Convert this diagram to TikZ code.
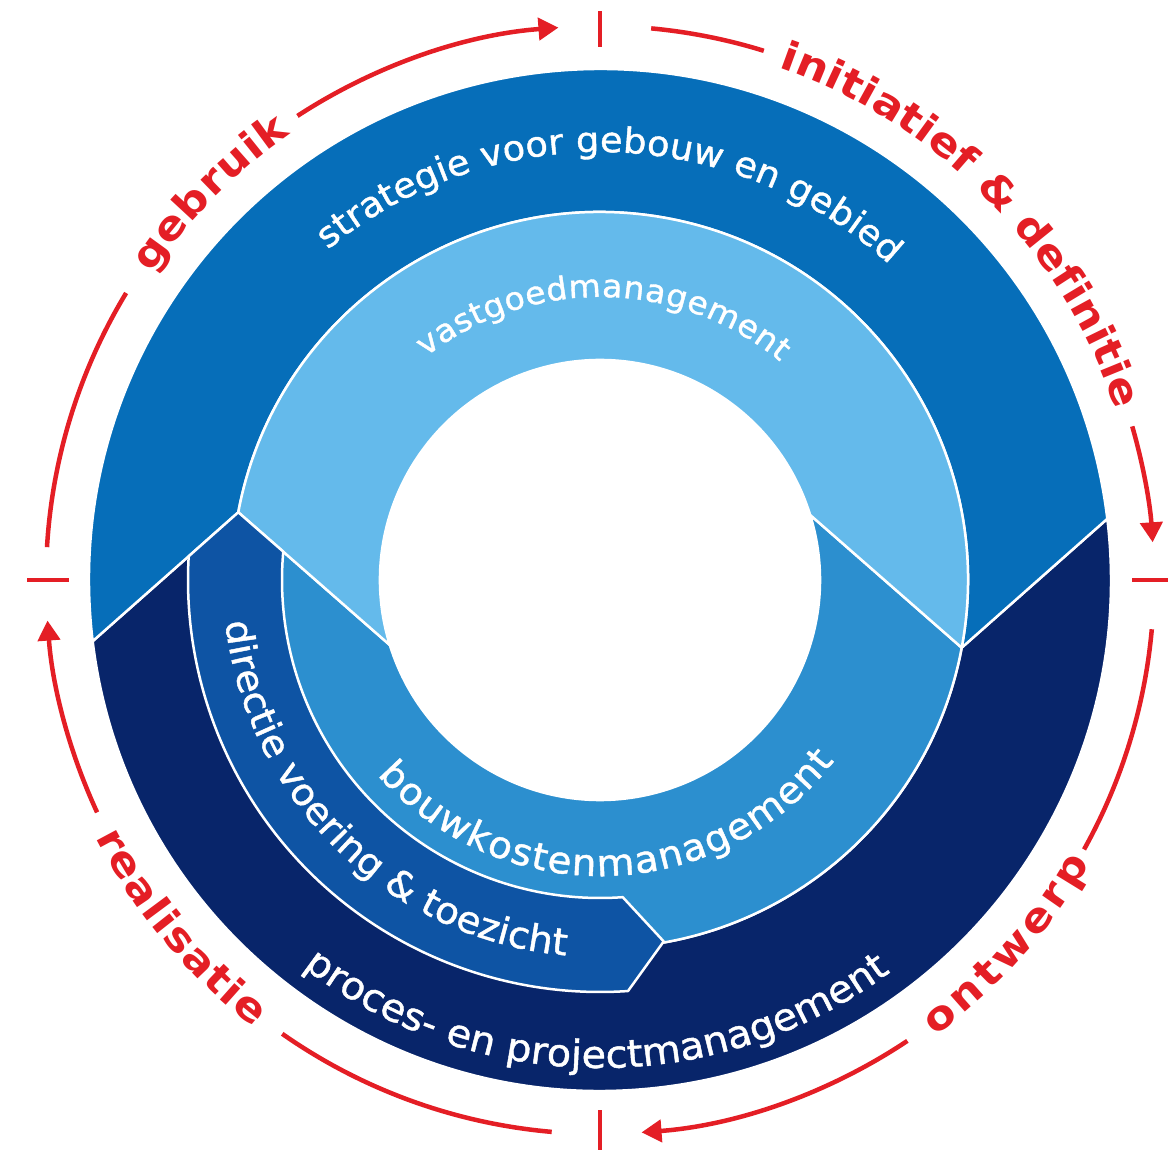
\documentclass[tikz,border=0pt]{standalone}
\usepackage{fontspec}
\usetikzlibrary{arrows.meta,decorations.text}
\newfontfamily\wfont[FakeStretch=1.05,FakeBold=1.2]{DejaVu Sans}
\newfontfamily\rfont[FakeStretch=1.12]{DejaVu Sans Bold}
\definecolor{cStrat}{HTML}{066EB9}
\definecolor{cVast}{HTML}{64BAEB}
\definecolor{cBouw}{HTML}{2C8FCF}
\definecolor{cDir}{HTML}{0E54A4}
\definecolor{cProc}{HTML}{08256A}
\definecolor{cRed}{HTML}{E41E25}
\begin{document}
\begin{tikzpicture}[x=1pt,y=1pt,
  region/.style={draw=white, line width=2.5pt, line join=round},
  redarc/.style={draw=cRed, line width=4.5pt},
  redtip/.style={redarc, -{Triangle[length=20pt,width=22pt]}},
  wtext/.style={decorate, decoration={text along path, text align={fit to path}, text color=white, text={#1}}},
  rtext/.style={decorate, decoration={text along path, text align={fit to path}, text color=cRed, text={#1}}}
  ]
\useasboundingbox (-600,-571) rectangle (568,580);
\fill[white] (-600,-571) rectangle (568,580);

% key points
\coordinate (A)  at (169.4:368pt);
\coordinate (B)  at (-10.6:368pt);
\coordinate (Lo) at (186.88:511pt);
\coordinate (Ro) at (6.88:511pt);
\coordinate (Li) at (197.2:220pt);
\coordinate (Ri) at (17.2:220pt);
\coordinate (P1) at (176.7:412pt);
\coordinate (P2) at (174.88:318pt);
\coordinate (L)  at (273.9:412pt);
\coordinate (T)  at (280:367pt);
\coordinate (U)  at (274.1:318pt);

% proces- en projectmanagement (outer bottom)
\path[region, fill=cProc] (Lo) arc[start angle=186.88, end angle=366.88, radius=511pt]
  -- (B) arc[start angle=349.4, end angle=169.4, radius=368pt] -- cycle;
% bouwkostenmanagement (inner bottom)
\path[region, fill=cBouw] (Li) arc[start angle=197.2, end angle=377.2, radius=220pt]
  -- (B) arc[start angle=349.4, end angle=169.4, radius=368pt] -- cycle;
% strategie (outer top)
\path[region, fill=cStrat] (Lo) -- (A) arc[start angle=169.4, end angle=-10.6, radius=368pt]
  -- (Ro) arc[start angle=6.88, end angle=186.88, radius=511pt] -- cycle;
% vastgoedmanagement (inner top)
\path[region, fill=cVast] (A) -- (Li) arc[start angle=197.2, end angle=17.2, radius=220pt]
  -- (B) arc[start angle=-10.6, end angle=169.4, radius=368pt] -- cycle;
% directie voering & toezicht
\path[region, fill=cDir] (A) -- (P1) arc[start angle=176.7, end angle=273.9, radius=412pt]
  -- (T) -- (U) arc[start angle=274.1, end angle=174.88, radius=318pt] -- cycle;

% white texts
\path[wtext={|\wfont\fontsize{35pt}{40pt}\selectfont|strategie voor gebouw en gebied}]
  (129.5:428pt) arc[start angle=129.5, end angle=47.5, radius=428pt];
\path[wtext={|\wfont\fontsize{31.5pt}{34pt}\selectfont|vastgoedmanagement}]
  (128:283pt) arc[start angle=128, end angle=50.5, radius=283pt];
\path[wtext={|\wfont\fontsize{37pt}{40pt}\selectfont|bouwkostenmanagement}]
  (221.2:296pt) arc[start angle=221.2, end angle=322.3, radius=296pt];
\path[wtext={|\wfont\fontsize{37pt}{40pt}\selectfont|directie voering {\&} toezicht}]
  (186.4:377pt) arc[start angle=186.4, end angle=264.5, radius=377pt];
\path[wtext={|\wfont\fontsize{38pt}{40pt}\selectfont|proces- en projectmanagement}]
  (232.5:488pt) arc[start angle=232.5, end angle=306.5, radius=488pt];

% red cycle
\draw[redarc] (176.6:554pt) arc[start angle=176.6, end angle=148.8, radius=554pt];
\draw[redtip] (123.1:554pt) arc[start angle=123.1, end angle=94.3, radius=554pt];
\draw[redarc] (84.7:554pt) arc[start angle=84.7, end angle=72.8, radius=554pt];
\draw[redtip] (16.1:554pt) arc[start angle=16.1, end angle=3.9, radius=554pt];
\draw[redarc] (-5.1:554pt) arc[start angle=-5.1, end angle=-29.1, radius=554pt];
\draw[redtip] (-56.3:554pt) arc[start angle=-56.3, end angle=-85.7, radius=554pt];
\draw[redarc] (265:554pt) arc[start angle=265, end angle=235, radius=554pt];
\draw[redtip] (204.8:554pt) arc[start angle=204.8, end angle=184.2, radius=554pt];
\draw[redarc] (90:533pt) -- (90:569pt);
\draw[redarc] (0:532pt) -- (0:568pt);
\draw[redarc] (270:530pt) -- (270:570pt);
\draw[redarc] (180:531pt) -- (180:573pt);

% red texts
\path[rtext={|\rfont\fontsize{40pt}{44pt}\selectfont|gebruik}]
  (145.7:543pt) arc[start angle=145.7, end angle=124.7, radius=543pt];
\path[rtext={|\rfont\fontsize{40pt}{44pt}\selectfont|initiatief {\&} definitie}]
  (70.8:543pt) arc[start angle=70.8, end angle=18.5, radius=543pt];
\path[rtext={|\rfont\fontsize{40pt}{44pt}\selectfont|ontwerp}]
  (306.3:566pt) arc[start angle=306.3, end angle=330, radius=566pt];
\path[rtext={|\rfont\fontsize{40pt}{44pt}\selectfont|realisatie}]
  (207:566pt) arc[start angle=207, end angle=232.3, radius=566pt];
\end{tikzpicture}
\end{document}
